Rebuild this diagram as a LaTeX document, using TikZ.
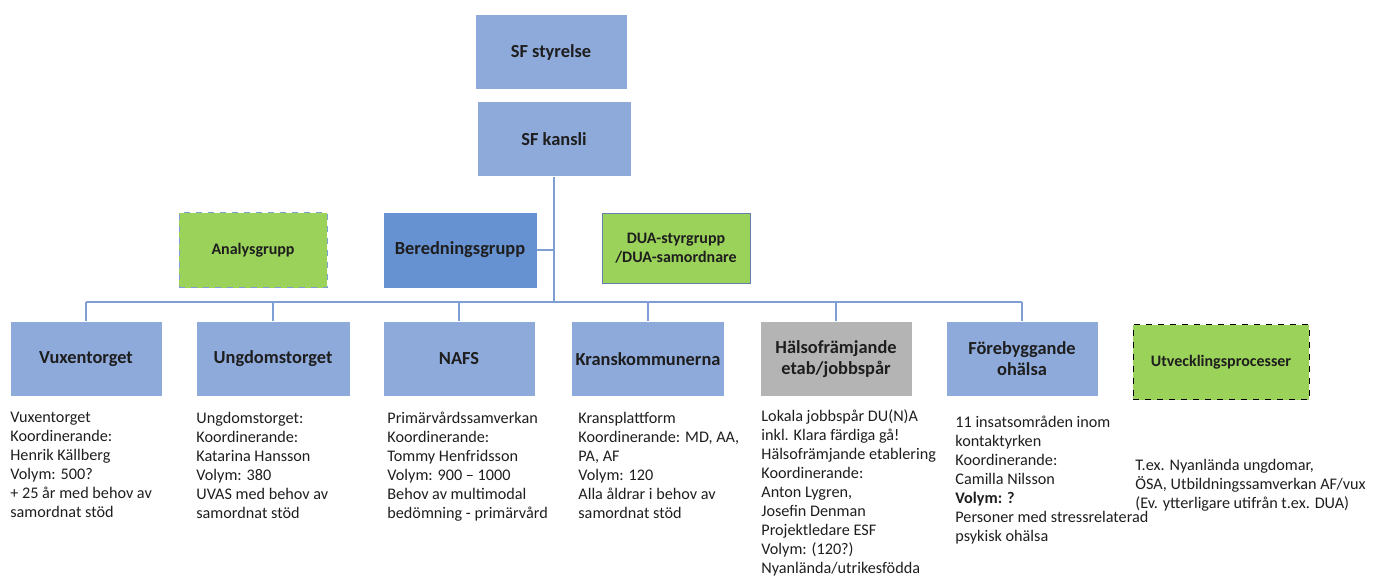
\documentclass[tikz,border=0pt]{standalone}
\usepackage{fontspec}
\setmainfont{Carlito}
\usetikzlibrary{positioning}
\definecolor{boxblue}{RGB}{142,170,219}
\definecolor{darkblue}{RGB}{103,146,210}
\definecolor{boxgreen}{RGB}{155,210,90}
\definecolor{boxgrey}{RGB}{180,180,180}
\definecolor{linblue}{RGB}{127,158,214}
\definecolor{txt}{RGB}{30,30,30}
\tikzstyle{line}=[draw,linblue,line width=0.8pt]
\tikzstyle{block} =
  [rectangle, fill=boxblue, draw=white, text=txt, align=center,
   font=\bfseries\fontsize{9.2}{10.5}\selectfont,
   minimum width=76pt, minimum height=37.5pt, inner sep=2pt]
\tikzstyle{greenbox} =
  [block, fill=boxgreen, font=\bfseries\fontsize{8}{9.5}\selectfont]
\tikzstyle{info} =
  [anchor=north west, align=left, inner sep=0pt, text=txt,
   font=\fontsize{8.1}{9.5}\selectfont]

\begin{document}
\begin{tikzpicture}[x=0.5pt, y=-0.5pt]
  \useasboundingbox (0,0) rectangle (1384,580);

  % top
  \node [block] (styr) at (551,52) {SF styrelse};
  \node [block, minimum width=77pt] (kansli) at (554,139) {SF kansli};

  % staff level
  \node [greenbox, draw=linblue, dashed, minimum width=74pt] (analys) at (253,250) {Analysgrupp};
  \node [block, fill=darkblue, minimum width=77pt, minimum height=38pt] (bered) at (460,250) {Beredningsgrupp};
  \node [greenbox, draw=linblue!80!black, minimum width=74pt, minimum height=35pt] (dua) at (676,248) {DUA-styrgrupp\\/DUA-samordnare};

  % bus
  \coordinate (bus) at (554,302);
  \draw [line] (kansli.south) to (bus);
  \draw [line] (bered.east) to (bered.east -| bus);

  % units
  \node [block] (vux) at (86,359) {Vuxentorget};
  \node [block, minimum width=77pt] (ungd) at (273,359) {Ungdomstorget};
  \node [block] (nafs) at (459,359) {NAFS};
  \node [block] (krans) at (648,359) {Kranskommunerna};
  \node [block, fill=boxgrey] (halsa) at (836,359) {Hälsofrämjande\\etab/jobbspår};
  \node [block] (fore) at (1022,359) {Förebyggande\\ohälsa};
  \node [greenbox, draw=black, dashed, minimum width=88pt] (utv) at (1221,362) {Utvecklingsprocesser};

  \draw [line] (vux.north |- bus) to (fore.north |- bus);
  \foreach \n in {vux,ungd,nafs,krans,halsa,fore}
    \draw [line] (\n.north) to (\n.north |- bus);

  % texts
  \node [info] (tvux) at (10,412) {Vuxentorget\\Koordinerande:\\Henrik Källberg\\Volym: 500?\\+ 25 år med behov av\\samordnat stöd};
  \node [info] (tungd) at (196,412) {Ungdomstorget:\\Koordinerande:\\Katarina Hansson\\Volym: 380\\UVAS med behov av\\samordnat stöd};
  \node [info] (tnafs) at (387,412) {Primärvårdssamverkan\\Koordinerande:\\Tommy Henfridsson\\Volym: 900 -- 1000\\Behov av multimodal\\bedömning - primärvård};
  \node [info] (tkrans) at (578,412) {Kransplattform\\Koordinerande: MD, AA,\\PA, AF\\Volym: 120\\Alla åldrar i behov av\\samordnat stöd};
  \node [info] (thalsa) at (761,409) {Lokala jobbspår DU(N)A\\inkl. Klara färdiga gå!\\Hälsofrämjande etablering\\Koordinerande:\\Anton Lygren,\\Josefin Denman\\Projektledare ESF\\Volym: (120?)\\Nyanlända/utrikesfödda};
  \node [info] (tfore) at (955,416) {11 insatsområden inom\\kontaktyrken\\Koordinerande:\\Camilla Nilsson\\\textbf{Volym: ?}\\Personer med stressrelaterad\\psykisk ohälsa};
  \node [info] (tutv) at (1135,459) {T.ex. Nyanlända ungdomar,\\ÖSA, Utbildningssamverkan AF/vux\\(Ev. ytterligare utifrån t.ex. DUA)};
\end{tikzpicture}
\end{document}
